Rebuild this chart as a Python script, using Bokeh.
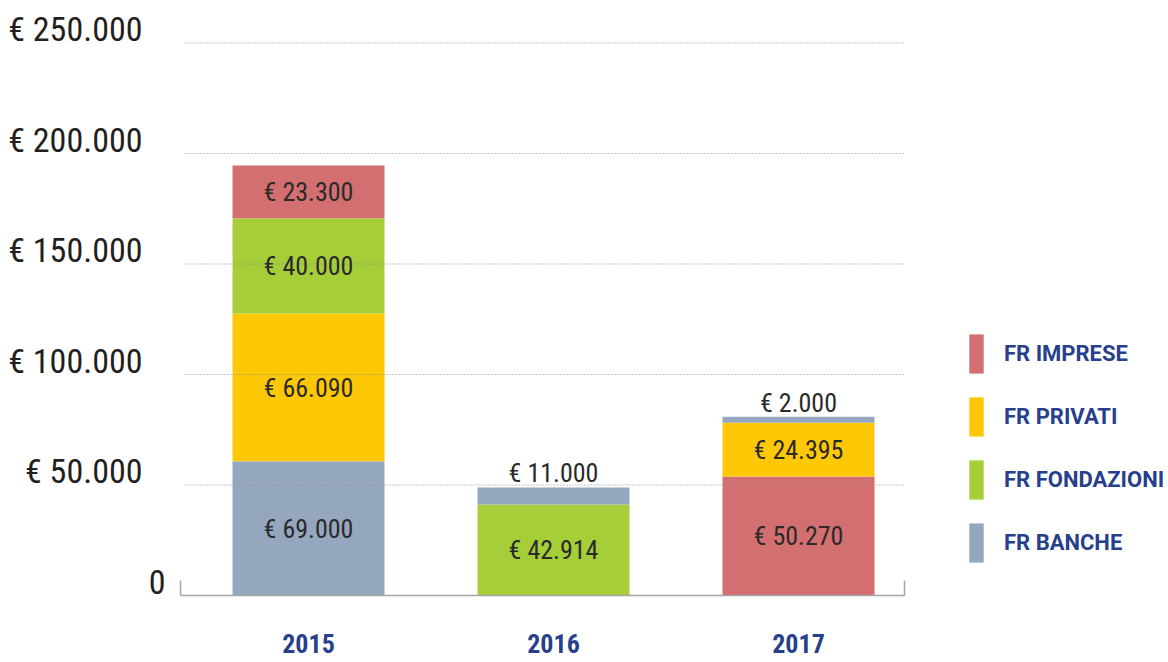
from bokeh.plotting import figure
from bokeh.models import ColumnDataSource, Range1d, Legend, LegendItem
from bokeh.core.properties import value
from bokeh.embed import file_html
from bokeh.resources import INLINE

# ---------------- data ----------------
years = ["2015", "2016", "2017"]
series_names = ["FR IMPRESE", "FR PRIVATI", "FR FONDAZIONI", "FR BANCHE"]
series_colors = ["#D36F71", "#FEC807", "#A6CE39", "#94A7BF"]

# stacking order (bottom -> top) for each year, heights as drawn, printed labels
stack_series = [["FR BANCHE", "FR PRIVATI", "FR FONDAZIONI", "FR IMPRESE"],
                ["FR FONDAZIONI", "FR BANCHE"],
                ["FR IMPRESE", "FR PRIVATI", "FR BANCHE"]]
stack_heights = [[60600, 67000, 43000, 24000],
                 [41200, 7700],
                 [53800, 24400, 2700]]
stack_labels = [["€ 69.000", "€ 66.090", "€ 40.000", "€ 23.300"],
                ["€ 42.914", "€ 11.000"],
                ["€ 50.270", "€ 24.395", "€ 2.000"]]

y_ticks = [0, 50000, 100000, 150000, 200000, 250000]
y_tick_labels = ["0", "€ 50.000", "€ 100.000", "€ 150.000", "€ 200.000", "€ 250.000"]

FONT = "Liberation Sans Narrow, Roboto Condensed, Roboto"
BLUE = "#283F8C"

# ---------------- layout (pixels) ----------------
W, H = 1168, 662
X_ORIGIN_PX, X_STEP_PX = 308, 245          # screen x of first category, px per category
Y_ORIGIN_PX, Y_PX_PER_UNIT = 595, 552.5 / 250000
AX_LEFT_PX, AX_RIGHT_PX, GRID_LEFT_PX = 180, 904, 185

x_start = -X_ORIGIN_PX / X_STEP_PX
x_end = (W - X_ORIGIN_PX) / X_STEP_PX
y_start = -(H - Y_ORIGIN_PX) / Y_PX_PER_UNIT
y_end = Y_ORIGIN_PX / Y_PX_PER_UNIT
ax_l = (AX_LEFT_PX - X_ORIGIN_PX) / X_STEP_PX
ax_r = (AX_RIGHT_PX - X_ORIGIN_PX) / X_STEP_PX
grid_l = (GRID_LEFT_PX - X_ORIGIN_PX) / X_STEP_PX

p = figure(width=W, height=H, x_range=Range1d(x_start, x_end), y_range=Range1d(y_start, y_end),
           output_backend="svg", toolbar_location=None,
           x_axis_location=None, y_axis_location=None,
           min_border=0, min_border_left=0, min_border_right=0,
           min_border_top=0, min_border_bottom=0)
p.outline_line_color = None
p.background_fill_color = "white"
p.border_fill_color = "white"
p.grid.visible = False

# build segments
seg = {name: dict(x=[], bottom=[], top=[]) for name in series_names}
lab_in = dict(x=[], y=[], text=[])
lab_out = dict(x=[], y=[], text=[])
for i, (names, hs, labs) in enumerate(zip(stack_series, stack_heights, stack_labels)):
    base = 0
    for n, h, t in zip(names, hs, labs):
        seg[n]["x"].append(i)
        seg[n]["bottom"].append(base)
        seg[n]["top"].append(base + h)
        if h < 10000:
            lab_out["x"].append(i); lab_out["y"].append(base + h); lab_out["text"].append(t)
        else:
            lab_in["x"].append(i); lab_in["y"].append(base + h / 2); lab_in["text"].append(t)
        base += h

renderers = {}
for name, col in zip(series_names, series_colors):
    src = ColumnDataSource(seg[name])
    renderers[name] = p.vbar(x="x", bottom="bottom", top="top", width=152 / X_STEP_PX,
                             source=src, fill_color=col, line_color=None)

# dotted grid lines over the bars
gt = y_ticks[1:]
p.segment(x0=[grid_l] * len(gt), x1=[ax_r] * len(gt), y0=gt, y1=gt,
          line_color="#8c8c8c", line_dash="1 2", line_width=1)

# baseline with end ticks
p.segment(x0=[ax_l], x1=[ax_r], y0=[0], y1=[0], line_color="#a5a5a5", line_width=1.5)
tick_h = 15 / Y_PX_PER_UNIT
p.segment(x0=[ax_l, ax_r], x1=[ax_l, ax_r], y0=[0, 0], y1=[tick_h, tick_h],
          line_color="#a5a5a5", line_width=1.5)

# value labels
p.text(x="x", y="y", text="text", source=ColumnDataSource(lab_in),
       text_align="center", text_baseline="middle", text_font_size="26px",
       text_font=value(FONT), text_color="#2a2a2a")
p.text(x="x", y="y", text="text", source=ColumnDataSource(lab_out),
       text_align="center", text_baseline="middle", text_font_size="26px",
       text_font=value(FONT), text_color="#2a2a2a", y_offset=-14)

# year labels
p.text(x=list(range(len(years))), y=[0] * len(years), text=years, y_offset=48,
       text_align="center", text_baseline="middle",
       text_font=value(FONT), text_font_size="26px", text_font_style="bold",
       text_color=BLUE)

# y labels
ysrc = ColumnDataSource(dict(x=[ax_l] * len(y_ticks), y=y_ticks, text=y_tick_labels,
                             xo=[-15 if v == 0 else -38 for v in y_ticks]))
p.text(x="x", y="y", text="text", source=ysrc, x_offset="xo", y_offset=-14,
       text_align="right", text_baseline="middle",
       text_font=value(FONT), text_font_size="34px", text_color="#231F20")

# legend (bokeh insets area glyphs by 10% on each side)
legend = Legend(items=[LegendItem(label=n, renderers=[renderers[n]]) for n in series_names],
                location=(967, H - 567), orientation="vertical",
                glyph_width=18, glyph_height=49, label_standoff=19, spacing=14,
                padding=0, margin=0, border_line_color=None, background_fill_alpha=0,
                label_text_font="Roboto", label_text_font_size="22px",
                label_text_font_style="bold",
                label_text_color=BLUE, label_text_baseline="middle")
p.add_layout(legend, "center")

open("out.html", "w").write(file_html(p, INLINE))
